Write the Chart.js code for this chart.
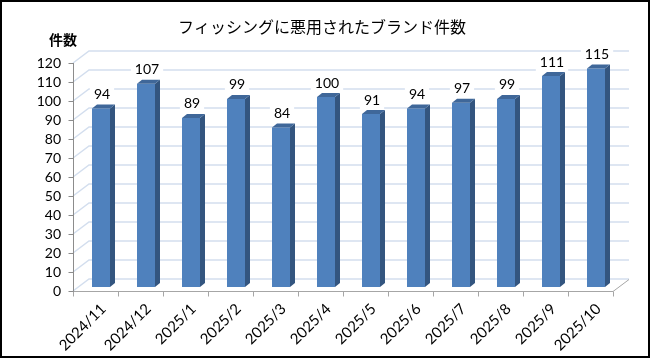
<!DOCTYPE html>
<html><head><meta charset="utf-8">
<script src="https://cdn.jsdelivr.net/npm/chart.js@4.4.1/dist/chart.umd.min.js"></script>
<style>html,body{margin:0;padding:0;background:#fff}canvas{display:block}</style>
</head><body>
<canvas id="c" width="650" height="360"></canvas>
<script>
const categories = ['2024/11','2024/12','2025/1','2025/2','2025/3','2025/4','2025/5','2025/6','2025/7','2025/8','2025/9','2025/10'];
const counts = [94,107,89,99,84,100,91,94,97,99,111,115];
const yTicks = [0,10,20,30,40,50,60,70,80,90,100,110,120];
const titleText = 'フィッシングに悪用されたブランド件数';
const yAxisTitle = '件数';

const WALL = {dx:16, dy:-12};     // back wall offset
const BARSHIFT = {dx:5.5, dy:-4}; // bar position inside depth
const BARDEPTH = {dx:5, dy:-4};   // bar side/top depth
const NUMFONT = '"Lato", "Liberation Sans", sans-serif';

const threeD = {
  id:'threeD',
  beforeDatasetsDraw(chart){
    const ctx = chart.ctx, ys = chart.scales.y, a = chart.chartArea;
    ctx.save();
    ctx.strokeStyle = '#d3deee'; ctx.lineWidth = 1.5;
    yTicks.forEach(v=>{
      const y = Math.round(ys.getPixelForValue(v));
      ctx.beginPath();
      ctx.moveTo(a.left, y); ctx.lineTo(a.left+WALL.dx, y+WALL.dy);
      ctx.lineTo(a.right+WALL.dx, y+WALL.dy);
      ctx.stroke();
    });
    const y0 = Math.round(ys.getPixelForValue(0))+0.5;
    ctx.strokeStyle = '#a6a6a6'; ctx.lineWidth = 1;
    ctx.beginPath();
    ctx.moveTo(a.left, y0); ctx.lineTo(a.right, y0);
    ctx.lineTo(a.right+WALL.dx, y0+WALL.dy);
    ctx.stroke();
    for(let i=0;i<=categories.length;i++){
      const x = Math.round(a.left + (a.right-a.left)*i/categories.length)+0.5;
      ctx.beginPath(); ctx.moveTo(x,y0); ctx.lineTo(x,y0+5); ctx.stroke();
    }
    ctx.strokeStyle = '#8c8c8c';
    const xa = a.left+0.5;
    ctx.beginPath(); ctx.moveTo(xa, Math.round(ys.getPixelForValue(120))); ctx.lineTo(xa, y0); ctx.stroke();
    yTicks.forEach(v=>{
      const y = Math.round(ys.getPixelForValue(v))+0.5;
      ctx.beginPath(); ctx.moveTo(xa-5,y); ctx.lineTo(xa,y); ctx.stroke();
    });
    ctx.restore();
  },
  beforeDatasetDraw(chart){
    chart.ctx.save();
    chart.ctx.translate(BARSHIFT.dx, BARSHIFT.dy);
  },
  afterDatasetDraw(chart, args){
    const ctx = chart.ctx;
    const meta = args.meta;
    meta.data.forEach(bar=>{
      const p = bar.getProps(['x','y','base','width'], true);
      const l = p.x - p.width/2, r = p.x + p.width/2, t = p.y, b = p.base;
      ctx.fillStyle = '#33557f';
      ctx.beginPath();
      ctx.moveTo(r,t); ctx.lineTo(r+BARDEPTH.dx,t+BARDEPTH.dy);
      ctx.lineTo(r+BARDEPTH.dx,b+BARDEPTH.dy); ctx.lineTo(r,b); ctx.closePath(); ctx.fill();
      ctx.fillStyle = '#3f6799';
      ctx.beginPath();
      ctx.moveTo(l,t); ctx.lineTo(l+BARDEPTH.dx,t+BARDEPTH.dy);
      ctx.lineTo(r+BARDEPTH.dx,t+BARDEPTH.dy); ctx.lineTo(r,t); ctx.closePath(); ctx.fill();
    });
    ctx.restore();
    ctx.save();
    ctx.font = '14px ' + NUMFONT;
    ctx.textAlign = 'center'; ctx.textBaseline = 'middle';
    meta.data.forEach((bar,i)=>{
      const p = bar.getProps(['x','y'], true);
      const cx = p.x + BARSHIFT.dx + 1, cy = p.y + BARSHIFT.dy - 14;
      const txt = String(counts[i]);
      const w = ctx.measureText(txt).width + 8;
      ctx.fillStyle = '#fff';
      ctx.fillRect(cx - w/2, cy - 9, w, 18);
      ctx.fillStyle = '#000';
      ctx.fillText(txt, cx, cy);
    });
    ctx.restore();
  },
  afterDraw(chart){
    const ctx = chart.ctx;
    ctx.save();
    ctx.fillStyle = '#000';
    ctx.textAlign = 'center'; ctx.textBaseline = 'middle';
    ctx.font = '16px "Noto Sans CJK JP", sans-serif';
    ctx.fillText(titleText, 322, 27);
    ctx.font = 'bold 14px "Noto Sans CJK JP", sans-serif';
    ctx.fillText(yAxisTitle, 63, 40);
    ctx.strokeStyle = '#000'; ctx.lineWidth = 2;
    ctx.strokeRect(1,1,648,356);
    ctx.restore();
  }
};

new Chart(document.getElementById('c'), {
  type:'bar',
  data:{ labels: categories, datasets:[{ data: counts, backgroundColor:'#4f81bd', borderWidth:0,
    categoryPercentage:1.0, barPercentage:0.4 }]},
  options:{
    responsive:false, animation:false, devicePixelRatio:1,
    layout:{ padding:{ left:0, right:37, top:63, bottom:0 } },
    plugins:{ legend:{display:false}, title:{display:false}, tooltip:{enabled:false} },
    scales:{
      y:{ min:0, max:120, border:{display:false},
        grid:{display:false, drawTicks:false, tickLength:0},
        ticks:{ stepSize:10, autoSkip:false, padding:12, color:'#000', font:{size:14, family:NUMFONT} },
        afterFit(s){ s.width = 73; } },
      x:{ border:{display:false},
        grid:{display:false, drawTicks:false, tickLength:0},
        ticks:{ autoSkip:false, minRotation:45, maxRotation:45, padding:9, labelOffset:8,
          color:'#000', font:{size:15, family:NUMFONT} },
        afterFit(s){ s.height = 69; } }
    }
  },
  plugins:[threeD]
});
</script>
</body></html>
